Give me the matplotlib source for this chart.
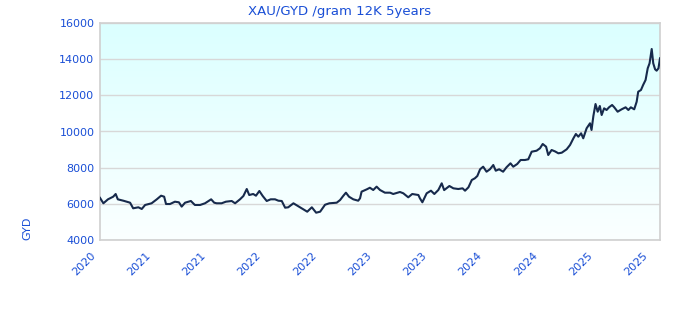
import matplotlib

matplotlib.use("Agg")

import matplotlib.dates as mdates
import matplotlib.pyplot as plt
import matplotlib.transforms as mtransforms
import numpy as np
import pandas as pd

TITLE = "XAU/GYD /gram 12K 5years"
Y_LABEL = "GYD"

dates = [
    "2020-11-18", "2020-11-29", "2020-12-14", "2020-12-31", "2021-01-08", "2021-01-15",
    "2021-02-02", "2021-02-24", "2021-03-06", "2021-03-23", "2021-04-03", "2021-04-14",
    "2021-05-05", "2021-05-22", "2021-06-05", "2021-06-15", "2021-06-21", "2021-07-04",
    "2021-07-20", "2021-08-02", "2021-08-11", "2021-08-22", "2021-09-10", "2021-09-23",
    "2021-10-10", "2021-10-26", "2021-11-15", "2021-11-25", "2021-12-03", "2021-12-19",
    "2022-01-02", "2022-01-21", "2022-02-01", "2022-02-17", "2022-02-28", "2022-03-11",
    "2022-03-19", "2022-04-01", "2022-04-10", "2022-04-21", "2022-05-02", "2022-05-15",
    "2022-05-28", "2022-06-11", "2022-06-22", "2022-07-03", "2022-07-14", "2022-07-24",
    "2022-08-10", "2022-08-23", "2022-09-06", "2022-09-24", "2022-10-09", "2022-10-23",
    "2022-11-05", "2022-11-21", "2022-12-05", "2022-12-29", "2023-01-09", "2023-01-19",
    "2023-01-28", "2023-02-07", "2023-02-21", "2023-03-09", "2023-03-15", "2023-03-20",
    "2023-04-06", "2023-04-16", "2023-04-27", "2023-05-08", "2023-05-19", "2023-06-04",
    "2023-06-21", "2023-07-01", "2023-07-23", "2023-08-03", "2023-08-19", "2023-09-01",
    "2023-09-21", "2023-09-26", "2023-10-04", "2023-10-18", "2023-11-01", "2023-11-12",
    "2023-11-25", "2023-12-06", "2023-12-14", "2023-12-31", "2024-01-13", "2024-01-29",
    "2024-02-12", "2024-02-20", "2024-03-02", "2024-03-13", "2024-03-23", "2024-03-31",
    "2024-04-09", "2024-04-19", "2024-04-30", "2024-05-11", "2024-05-22", "2024-05-30",
    "2024-06-10", "2024-06-23", "2024-07-04", "2024-07-17", "2024-07-26", "2024-08-08",
    "2024-08-19", "2024-09-02", "2024-09-13", "2024-09-24", "2024-10-10", "2024-10-21",
    "2024-10-30", "2024-11-10", "2024-11-17", "2024-11-28", "2024-12-09", "2024-12-20",
    "2024-12-31", "2025-01-16", "2025-01-27", "2025-02-07", "2025-02-15", "2025-02-23",
    "2025-03-04", "2025-03-11", "2025-03-22", "2025-04-02", "2025-04-07", "2025-04-13",
    "2025-04-20", "2025-04-27", "2025-05-04", "2025-05-10", "2025-05-18", "2025-05-26",
    "2025-06-03", "2025-06-13", "2025-06-20", "2025-07-01", "2025-07-14", "2025-07-27",
    "2025-08-05", "2025-08-13", "2025-08-24", "2025-09-01", "2025-09-06", "2025-09-15",
    "2025-09-22", "2025-09-30", "2025-10-07", "2025-10-13", "2025-10-20", "2025-10-25",
    "2025-10-31", "2025-11-05", "2025-11-11", "2025-11-16",
]
prices = [
    6330, 6030, 6250, 6395, 6544, 6250,
    6173, 6063, 5753, 5808, 5715, 5937,
    6030, 6250, 6450, 6395, 5990, 5990,
    6118, 6085, 5845, 6063, 6157, 5937,
    5937, 6030, 6250, 6063, 6030, 6030,
    6118, 6157, 6030, 6250, 6433, 6820,
    6488, 6544, 6450, 6710, 6433, 6157,
    6250, 6250, 6173, 6157, 5786, 5808,
    6030, 5897, 5753, 5565, 5808, 5510,
    5565, 5950, 6030, 6063, 6210, 6433,
    6617, 6395, 6250, 6173, 6306, 6673,
    6802, 6890, 6765, 6950, 6765, 6617,
    6617, 6544, 6655, 6582, 6361, 6544,
    6488, 6306, 6085, 6582, 6727, 6544,
    6765, 7135, 6760, 6986, 6858, 6820,
    6858, 6727, 6912, 7318, 7412, 7539,
    7910, 8054, 7777, 7910, 8147, 7832,
    7910, 7777, 8020, 8241, 8054, 8203,
    8424, 8424, 8463, 8883, 8938, 9071,
    9309, 9160, 8700, 8977, 8900, 8794,
    8828, 9016, 9254, 9624, 9862, 9712,
    9900, 9624, 10177, 10454, 10083, 10857,
    11520, 11095, 11410, 10912, 11283, 11189,
    11338, 11466, 11338, 11095, 11227, 11338,
    11189, 11338, 11227, 11648, 12199, 12295,
    12571, 12848, 13495, 13771, 14562, 13771,
    13440, 13363, 13495, 14047,
]
y_ticks = [4000, 6000, 8000, 10000, 12000, 14000, 16000]

BLUE = "#1a4fd6"
LINE = "#172a4c"
EDGE = "#d0d0d0"

x = pd.to_datetime(dates)

fig = plt.figure(figsize=(6.8, 3.2), dpi=100)
ax = fig.add_axes([100 / 680, 1 - 240 / 320, 560 / 680, 217 / 320])

# light cyan to white vertical gradient behind the line
grad = np.linspace(0, 1, 256).reshape(-1, 1)
cmap = matplotlib.colors.LinearSegmentedColormap.from_list("bg", ["#fbffff", "#dbffff"])
ax.imshow(grad, cmap=cmap, aspect="auto", origin="lower",
          extent=[0, 1, 0, 1], transform=ax.transAxes, zorder=0)

ax.plot(x, prices, color=LINE, lw=1.5, zorder=3)

ax.set_xlim(x[0], x[-1])
ax.set_ylim(4000, 16000)
ax.set_yticks(y_ticks)
ax.yaxis.grid(True, color="#d8d8d8", lw=1.0, zorder=1)
ax.set_axisbelow(True)

# year labels every 180 days, drawn by hand so they can sit left of the tick
tick_dates = [x[0] + pd.Timedelta(days=180 * i) for i in range(11)]
ax.set_xticks(tick_dates)
ax.tick_params(axis="x", labelbottom=False)
label_tr = mtransforms.blended_transform_factory(ax.transData, ax.transAxes) + \
    mtransforms.ScaledTranslation(-0.10, -0.10, fig.dpi_scale_trans)
for t in tick_dates:
    ax.text(mdates.date2num(t), 0, t.strftime("%Y"), transform=label_tr,
            rotation=45, rotation_mode="anchor", ha="right", va="top",
            fontsize=8, color=BLUE, clip_on=False)

ax.tick_params(axis="both", length=0, labelsize=8, labelcolor=BLUE, pad=4)
for sp in ax.spines.values():
    sp.set_color(EDGE)
    sp.set_linewidth(1.2)

fig.text(340 / 680, 1 - 11 / 320, TITLE, ha="center", va="center", fontsize=9.5, color=BLUE)
fig.text(27 / 680, 1 - 228 / 320, Y_LABEL, ha="center", va="center", rotation=90,
         fontsize=8, color=BLUE)

fig.savefig("out.png", dpi=100, facecolor="white")
